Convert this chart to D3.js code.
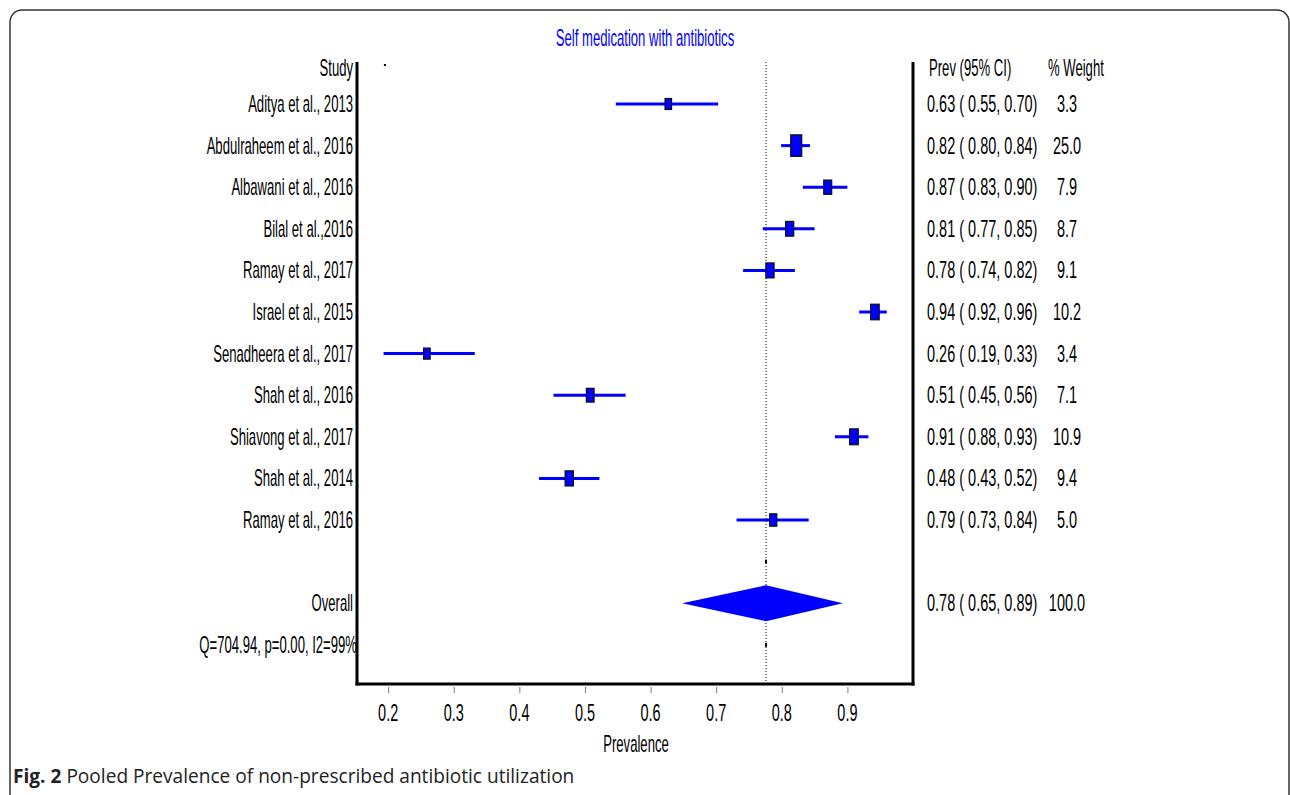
<!DOCTYPE html>
<html>
<head>
<meta charset="utf-8">
<script src="https://cdn.jsdelivr.net/npm/d3@7"></script>
<style>
  html, body { margin: 0; padding: 0; background: #fff; }
  svg { display: block; }
</style>
</head>
<body>
<svg id="chart" width="1290" height="795"></svg>
<script>
// ---------------- data ----------------
const studies = ["Aditya et al., 2013", "Abdulraheem et al., 2016", "Albawani et al., 2016",
  "Bilal et al.,2016", "Ramay et al., 2017", "Israel et al., 2015", "Senadheera et al., 2017",
  "Shah et al., 2016", "Shiavong et al., 2017", "Shah et al., 2014", "Ramay et al., 2016"];
const prev    = [0.627, 0.822, 0.870, 0.812, 0.782, 0.942, 0.259, 0.508, 0.910, 0.476, 0.787];
const ciLow   = [0.547, 0.799, 0.832, 0.771, 0.741, 0.918, 0.193, 0.452, 0.881, 0.430, 0.731];
const ciHigh  = [0.703, 0.843, 0.900, 0.850, 0.820, 0.960, 0.332, 0.562, 0.932, 0.522, 0.841];
const weights = [3.3, 25.0, 7.9, 8.7, 9.1, 10.2, 3.4, 7.1, 10.9, 9.4, 5.0];
const overall = { label: "Overall", prev: 0.776, low: 0.648, high: 0.893, weight: 100.0 };
const hetLabel = "Q=704.94, p=0.00, I2=99%";
const xTicks = [0.2, 0.3, 0.4, 0.5, 0.6, 0.7, 0.8, 0.9];
const titleText = "Self medication with antibiotics";
const headers = ["Study", "Prev (95% CI)", "% Weight"];
const xLabel = "Prevalence";
const caption = ["Fig. 2", " Pooled Prevalence of non-prescribed antibiotic utilization"];

// ---------------- layout ----------------
const svg = d3.select("#chart");
const plotL = 357, plotR = 913, plotT = 62, plotB = 684;
const x = d3.scaleLinear().domain([0.1525, 1.0]).range([plotL, plotR]);
// row index: 1..11 studies, 12 blank, 13 overall, 14 heterogeneity
const y = d3.scaleLinear().domain([1, 14]).range([104, 644.8]);
const headerY = 68;
const boxW = d3.scaleSqrt().domain([0, 25]).range([4, 11]);
const boxH = d3.scaleSqrt().domain([0, 25]).range([5, 21.5]);
const fmt = d3.format(".2f");
const fmtW = d3.format(".1f");
const FONT = "'Liberation Sans', Arial, sans-serif";
const FS = 23, SX = 0.57, SXN = 0.63;

function ntext(parent, tx, ty, str, anchor, color, sx) {
  const g = parent.append("g").attr("transform", `translate(${tx},${ty}) scale(${sx || SX},1)`);
  g.append("text").attr("x", 0).attr("y", 0)
    .attr("text-anchor", anchor || "start")
    .attr("font-family", FONT).attr("font-size", FS)
    .attr("fill", color || "#000")
    .text(str);
  return g;
}

// outer frame
svg.append("rect").attr("x", 10).attr("y", 10).attr("width", 1279).attr("height", 800)
  .attr("rx", 12).attr("ry", 12).attr("fill", "none").attr("stroke", "#333").attr("stroke-width", 1.5);

// title
ntext(svg, 645, 46, titleText, "middle", "#0000ff");

// headers
ntext(svg, 353, headerY + 8, headers[0], "end");
ntext(svg, 929, headerY + 8, headers[1], "start");
ntext(svg, 1048, headerY + 8, headers[2], "start");

// tiny header marker
svg.append("rect").attr("x", x(0.195) - 1).attr("y", headerY - 4).attr("width", 2).attr("height", 2).attr("fill", "#000");

// overall dotted line
svg.append("line").attr("x1", x(overall.prev)).attr("x2", x(overall.prev))
  .attr("y1", plotT).attr("y2", plotB)
  .attr("stroke", "#000").attr("stroke-width", 1).attr("stroke-dasharray", "1,2");

// small marks on the dotted line at blank and heterogeneity rows
[12, 14].forEach(r => {
  svg.append("rect").attr("x", x(overall.prev) - 1).attr("y", y(r) - 2).attr("width", 2).attr("height", 4).attr("fill", "#000");
});

// study rows
const rows = studies.map((s, i) => ({ s, p: prev[i], lo: ciLow[i], hi: ciHigh[i], w: weights[i], r: i + 1 }));
const gRows = svg.append("g");
gRows.selectAll("line.ci").data(rows).join("line").attr("class", "ci")
  .attr("x1", d => x(d.lo)).attr("x2", d => x(d.hi))
  .attr("y1", d => y(d.r)).attr("y2", d => y(d.r))
  .attr("stroke", "#0000ff").attr("stroke-width", 3);
gRows.selectAll("rect.box").data(rows).join("rect").attr("class", "box")
  .attr("x", d => x(d.p) - boxW(d.w) / 2).attr("y", d => y(d.r) - boxH(d.w) / 2)
  .attr("width", d => boxW(d.w)).attr("height", d => boxH(d.w))
  .attr("fill", "#0000ff").attr("stroke", "#111").attr("stroke-width", 1.2);

rows.forEach(d => {
  ntext(svg, 353, y(d.r) + 8, d.s, "end");
  ntext(svg, 927, y(d.r) + 8, `${fmt(d.p)} ( ${fmt(d.lo)}, ${fmt(d.hi)})`, "start", null, SXN);
  ntext(svg, 1067, y(d.r) + 8, fmtW(d.w), "middle", null, SXN);
});

// overall diamond
const oy = y(13);
svg.append("polygon")
  .attr("points", [[x(overall.low), oy], [x(overall.prev), oy - 18], [x(overall.high), oy], [x(overall.prev), oy + 18]].map(p => p.join(",")).join(" "))
  .attr("fill", "#0000ff");
ntext(svg, 353, oy + 8, overall.label, "end");
ntext(svg, 927, oy + 8, `${fmt(overall.prev)} ( ${fmt(overall.low)}, ${fmt(overall.high)})`, "start", null, SXN);
ntext(svg, 1067, oy + 8, fmtW(overall.weight), "middle", null, SXN);

// heterogeneity
ntext(svg, 357, y(14) + 8, hetLabel, "end");

// plot frame lines
svg.append("line").attr("x1", plotL).attr("x2", plotL).attr("y1", plotT).attr("y2", plotB + 1.5).attr("stroke", "#000").attr("stroke-width", 3);
svg.append("line").attr("x1", plotR).attr("x2", plotR).attr("y1", plotT).attr("y2", plotB + 1.5).attr("stroke", "#000").attr("stroke-width", 3);

// x axis
const axis = d3.axisBottom(x).tickValues(xTicks).tickFormat(d3.format(".1f")).tickSize(6).tickPadding(20);
const gAx = svg.append("g").attr("transform", `translate(0,${plotB})`).call(axis);
gAx.select(".domain").remove();
gAx.selectAll(".tick line").attr("stroke", "#777").attr("y1", 3).attr("y2", 9);
gAx.selectAll(".tick text").remove();
xTicks.forEach(t => ntext(svg, x(t), 721, d3.format(".1f")(t), "middle", null, SXN));
svg.append("line").attr("x1", plotL - 1.5).attr("x2", plotR + 1.5).attr("y1", plotB).attr("y2", plotB).attr("stroke", "#000").attr("stroke-width", 3);

// x label
ntext(svg, 636, 752, xLabel, "middle");

// caption
const cap = svg.append("text").attr("x", 13).attr("y", 783)
  .attr("font-family", "'Open Sans', 'Noto Sans', sans-serif").attr("font-size", 19.1).attr("fill", "#222");
cap.append("tspan").attr("font-weight", "bold").text(caption[0]);
cap.append("tspan").text(caption[1]);
</script>
</body>
</html>
